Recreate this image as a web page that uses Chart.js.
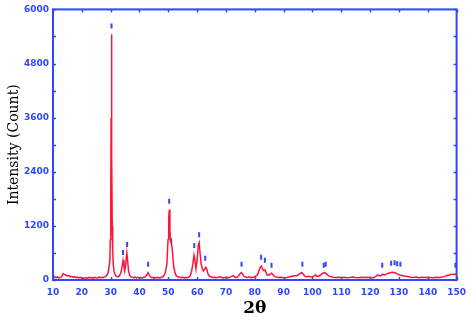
<!DOCTYPE html>
<html>
<head>
<meta charset="utf-8">
<script src="https://cdn.jsdelivr.net/npm/chart.js@4"></script>
<style>
html, body { margin: 0; padding: 0; background: #fff; }
#wrap { width: 473px; height: 317px; }
</style>
</head>
<body>
<div id="wrap"><canvas id="xrd"></canvas></div>
<script>
// diffraction pattern
var twoTheta = [10,10.5,11,11.5,12,12.5,13,13.5,14,14.5,15,15.5,16,16.5,17,17.5,18,18.5,19,19.5,
  20,20.5,21,21.5,22,22.5,23,23.5,24,24.5,25,25.5,26,26.5,27,27.5,28,28.5,29,29.4,29.7,29.9,
  30.05,30.15,30.25,30.35,30.45,30.55,30.7,30.9,31.2,31.6,32,32.5,33,33.5,34,34.3,34.6,34.9,
  35.2,35.6,35.9,36.2,36.6,37,37.5,38,38.5,39,39.5,40,40.5,41,41.5,42,42.5,43,43.4,43.8,44.2,
  44.7,45,45.5,46,46.5,47,47.5,48,48.5,49,49.5,49.9,50.15,50.35,50.55,50.8,51.1,51.4,51.7,52,
  52.4,52.8,53.3,54,54.5,55,55.5,56,56.5,57,57.5,58,58.5,58.9,59.2,59.6,60,60.4,60.7,61,61.4,
  61.8,62.2,62.6,63,63.4,63.8,64.2,64.7,65.5,66,66.5,67,68,68.5,69,70,70.5,71,71.5,72,72.5,73,
  73.5,74,74.5,75,75.4,75.8,76.3,77,77.5,78,78.5,79,79.5,80,80.5,81,81.5,82,82.3,82.7,83.1,
  83.5,83.9,84.3,84.8,85.3,85.8,86.3,86.8,87.3,88,89,90,91,92,92.5,93,93.7,94.3,95,95.6,96.3,
  96.9,97.5,98,98.6,99.2,99.8,100.4,101,101.5,102,102.5,103,103.6,104.2,104.8,105.4,106,106.6,
  107.2,108,109,110,111,112,113,114,115,116,117,118,119,120,121,121.5,122,122.6,123.2,123.7,
  124.3,125,125.6,126.3,127,127.6,128.3,129,129.6,130.3,131,131.7,132.4,133,134,135,136,137,
  138,139,140,141,142,143,144,145,146,146.7,147.4,148,148.7,149.3,150];
var intensity = [60,80,50,70,45,60,70,140,120,110,90,100,70,80,60,75,50,65,45,60,
  40,35,45,50,40,60,45,55,40,60,50,45,65,50,60,55,70,90,140,260,420,900,
  1850,3600,5450,5200,2720,1200,700,350,180,110,80,70,90,150,300,430,300,200,
  350,600,420,200,100,70,60,50,65,45,60,50,55,45,60,70,110,165,110,70,50,
  60,45,55,50,60,45,55,70,100,170,350,900,1400,1560,1100,850,820,650,420,250,
  140,90,70,60,50,65,45,55,50,60,90,170,350,550,450,250,450,780,830,600,350,
  250,200,240,280,220,130,90,70,55,60,50,55,70,55,45,60,55,50,70,80,95,65,
  55,70,100,150,165,120,80,60,55,70,50,60,55,80,90,120,220,290,310,240,210,
  225,170,110,100,130,150,120,80,70,55,60,50,55,65,85,80,100,90,110,140,165,
  120,75,70,80,65,75,80,110,90,80,100,120,150,165,140,100,80,70,
  60,55,60,55,60,50,55,65,55,50,60,55,60,55,50,60,80,110,100,90,
  130,110,130,150,160,170,165,150,130,110,100,90,85,80,60,55,65,50,
  60,55,60,55,50,60,55,65,80,100,110,125,130,120,145];

// reference reflection markers
var markTheta = [30.3,34.3,35.7,43.0,50.3,51.0,59.0,60.7,62.8,75.4,82.2,83.5,85.8,96.5,
  103.9,104.6,124.2,127.3,128.5,129.4,130.5,149.6];
var markHeight = [5630,611,785,350,1745,873,764,1004,480,350,502,436,327,350,
  327,350,327,370,380,360,350,327];

var xMin = 10, xMax = 150, xStep = 10;
var yMin = 0, yMax = 6000, yStep = 1200, yMinor = 600;

var blue = '#2f47ff';
var red = 'rgb(255,20,55)';

var frame = {
  id: 'frame',
  afterDatasetsDraw: function (chart) {
    var c = chart.ctx, a = chart.chartArea;
    var xs = chart.scales.x, ys = chart.scales.y;
    c.save();
    c.strokeStyle = blue;
    c.lineWidth = 2;
    c.strokeRect(a.left, a.top, a.right - a.left, a.bottom - a.top);
    c.lineWidth = 1.5;
    c.beginPath();
    for (var v = xMin; v <= xMax; v += xStep) {
      var px = Math.round(xs.getPixelForValue(v)) + 0.5;
      c.moveTo(px, a.top); c.lineTo(px, a.top + 3);
      c.moveTo(px, a.bottom); c.lineTo(px, a.bottom - 3);
    }
    for (var w = yMin; w <= yMax; w += yMinor) {
      var py = Math.round(ys.getPixelForValue(w)) + 0.5;
      c.moveTo(a.left, py); c.lineTo(a.left + 3, py);
      c.moveTo(a.right, py); c.lineTo(a.right - 3, py);
    }
    c.stroke();
    c.restore();
  }
};

var pattern = twoTheta.map(function (t, i) { return {x: t, y: intensity[i]}; });
var marks = markTheta.map(function (t, i) { return {x: t, y: markHeight[i]}; });

new Chart(document.getElementById('xrd'), {
  type: 'line',
  data: {
    datasets: [{
      label: 'pattern',
      data: pattern,
      borderColor: red,
      borderWidth: 1.5,
      pointRadius: 0,
      tension: 0,
      fill: false
    }, {
      type: 'scatter',
      label: 'reflections',
      data: marks,
      pointStyle: 'line',
      rotation: 90,
      radius: 2.5,
      borderColor: blue,
      backgroundColor: blue,
      borderWidth: 2
    }]
  },
  options: {
    responsive: true,
    maintainAspectRatio: false,
    animation: false,
    layout: { padding: { top: 5, right: 16, left: 0, bottom: 0 } },
    plugins: { legend: { display: false }, tooltip: { enabled: false } },
    scales: {
      x: {
        type: 'linear',
        min: xMin, max: xMax,
        grid: { display: false, drawTicks: false },
        border: { display: false },
        ticks: { stepSize: xStep, color: blue, padding: 7,
          callback: function (v) { return String(v); },
          font: { family: 'DejaVu Sans', size: 9, weight: 'bold' } },
        title: { display: true, text: '2θ', color: '#000',
          font: { family: 'DejaVu Serif', size: 17, weight: 'bold', lineHeight: 1 },
          padding: { top: 0, bottom: 0 } },
        afterFit: function (s) { s.height = 37; }
      },
      y: {
        min: yMin, max: yMax,
        grid: { display: false, drawTicks: false },
        border: { display: false },
        ticks: { stepSize: yStep, color: blue, padding: 4,
          callback: function (v) { return String(v); },
          font: { family: 'DejaVu Sans', size: 9, weight: 'bold' } },
        title: { display: true, text: 'Intensity (Count)', color: '#000',
          font: { family: 'DejaVu Serif', size: 14, lineHeight: 1 },
          padding: { top: 7, bottom: 0 } },
        afterFit: function (s) { s.width = 53; }
      }
    }
  },
  plugins: [frame]
});
</script>
</body>
</html>
